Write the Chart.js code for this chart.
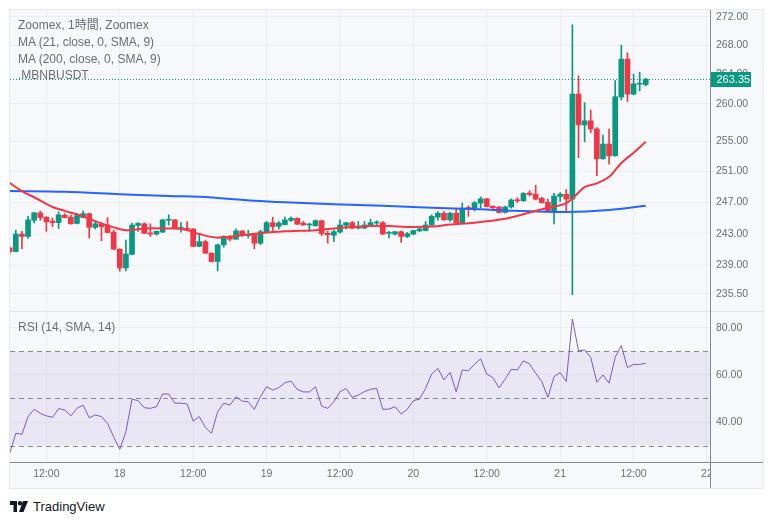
<!DOCTYPE html>
<html>
<head>
<meta charset="utf-8">
<script src="https://cdn.jsdelivr.net/npm/chart.js@4.4.1/dist/chart.umd.min.js"></script>
<style>
  html, body { margin: 0; padding: 0; background: #ffffff; }
  body { width: 772px; height: 523px; position: relative; overflow: hidden;
         font-family: "Liberation Sans", Arial, "Noto Sans CJK JP", sans-serif; }
  #panel { position: absolute; left: 10px; top: 10px; width: 753px; height: 478px;
           background: #F7F8FA; box-shadow: 0 0 0 1px #E6E8ED; }
  #chart { position: absolute; left: 0; top: 0; }
  .legend { position: absolute; left: 18px; font-size: 12px; line-height: 14px;
            color: #6A6D78; white-space: nowrap; }
  #brand { position: absolute; left: 10px; top: 498px; height: 16px; display: flex; align-items: center; }
  #brand span { font-size: 13px; color: #131722; margin-left: 5px; }
</style>
</head>
<body>
<div id="panel"><canvas id="chart" width="753" height="478"></canvas></div>
<div class="legend" style="top:18px">Zoomex, 1時間, Zoomex</div>
<div class="legend" style="top:35px">MA (21, close, 0, SMA, 9)</div>
<div class="legend" style="top:52px">MA (200, close, 0, SMA, 9)</div>
<div class="legend" style="top:68px">.MBNBUSDT</div>
<div class="legend" style="top:320px">RSI (14, SMA, 14)</div>
<div id="brand">
  <svg width="18" height="11" viewBox="0 0 18 11">
    <path d="M0 0H7V11H3.5V4H0Z" fill="#131722"/>
    <circle cx="10" cy="2.2" r="2.2" fill="#131722"/>
    <path d="M13 0H18L13.5 11H9Z" fill="#131722"/>
  </svg>
  <span>TradingView</span>
</div>
<script>
/* ============================
   CANDLES (1h), hours from 18 00:00
   ============================ */

const candleHours = [
  -18, -17, -16, -15, -14, -13, -12, -11, -10, -9, -8, -7, -6, -5, -4, -3, -2, -1,
  0, 1, 2, 3, 4, 5, 6, 7, 8, 9, 10, 11, 12, 13, 14, 15, 16, 17, 18, 19, 20, 21, 22, 23,
  24, 25, 26, 27, 28, 29, 30, 31, 32, 33, 34, 35, 36, 37, 38, 39, 40, 41, 42, 43, 44, 45, 46, 47,
  48, 49, 50, 51, 52, 53, 54, 55, 56, 57, 58, 59, 60, 61, 62, 63, 64, 65, 66, 67, 68, 69, 70, 71,
  72, 73, 74, 75, 76, 77, 78, 79, 80, 81, 82, 83, 84, 85, 86
];

const openPrices = [
  241.2, 240.75, 242.95, 242.65, 244.7, 245.65, 245.1, 244.6, 244.4, 245.35, 245.1, 244.3, 245.05, 245.55, 243.8, 244.2, 244.1, 243.2,
  241.05, 238.7, 240.4, 244.05, 244.25, 243.1, 242.95, 243.2, 244.7, 244.75, 243.65, 243.7, 243.6, 241.4, 242.0, 240.55, 239.5, 241.6, 242.65, 242.3, 243.35, 242.75, 242.95, 241.8,
  243.2, 244.4, 243.95, 244.15, 244.7, 244.95, 244.35, 244.1, 244.0, 244.65, 243.05, 242.8, 243.2, 244.05, 244.4, 243.7, 243.7, 244.1, 244.35, 244.4, 243.05, 242.95, 243.25, 242.65,
  242.95, 243.35, 243.4, 244.1, 245.1, 245.6, 244.75, 245.6, 244.35, 246.35, 246.3, 246.9, 247.45, 246.5, 246.4, 245.7, 246.4, 247.3, 247.2, 248.2, 248.05, 247.5, 247.0, 245.9,
  247.75, 248.05, 247.4, 261.3, 257.15, 257.7, 256.6, 252.65, 254.6, 253.05, 260.9, 266.1, 261.3, 262.65, 262.6
];

const highPrices = [
  241.4, 243.45, 243.3, 245.2, 245.7, 245.9, 245.15, 245.0, 245.8, 245.55, 245.35, 245.6, 245.9, 245.6, 244.65, 244.4, 245.05, 243.45,
  241.1, 242.2, 244.35, 244.4, 244.4, 244.25, 243.35, 244.85, 245.4, 244.8, 244.4, 244.55, 243.65, 243.05, 242.2, 240.6, 241.7, 242.75, 242.75, 243.6, 243.4, 243.45, 243.0, 243.45,
  244.55, 245.1, 244.55, 245.1, 245.15, 245.0, 244.55, 244.35, 244.75, 244.7, 243.3, 243.45, 244.75, 244.45, 244.55, 244.55, 244.55, 244.85, 244.65, 244.55, 243.3, 243.3, 243.35, 243.15,
  243.45, 243.9, 244.55, 245.4, 245.8, 245.8, 245.7, 246.1, 246.9, 246.55, 247.1, 247.7, 247.5, 246.55, 246.45, 246.5, 247.45, 247.6, 248.25, 248.5, 249.2, 247.65, 247.4, 248.15,
  248.25, 248.65, 270.9, 263.8, 260.15, 259.15, 256.8, 255.8, 256.6, 263.15, 268.05, 267.0, 264.05, 264.3, 263.45
];

const lowPrices = [
  240.4, 240.7, 241.1, 242.4, 244.35, 244.7, 243.3, 243.9, 243.65, 245.0, 244.2, 244.25, 245.0, 242.45, 243.6, 242.1, 243.1, 241.0,
  238.3, 238.35, 240.35, 243.3, 243.0, 242.65, 242.8, 243.15, 244.1, 243.65, 243.2, 243.45, 241.35, 241.35, 240.5, 239.45, 238.35, 241.3, 242.1, 242.3, 242.65, 242.45, 241.1, 241.6,
  243.15, 243.3, 243.6, 244.1, 244.55, 244.15, 244.05, 243.3, 243.95, 242.75, 241.8, 242.0, 243.05, 243.6, 243.6, 243.6, 243.65, 244.0, 244.1, 242.9, 242.45, 242.8, 241.9, 242.5,
  242.85, 243.25, 243.35, 244.05, 244.7, 244.7, 244.55, 244.2, 244.3, 245.2, 245.9, 246.3, 246.4, 245.9, 245.6, 245.6, 246.25, 246.95, 247.1, 247.8, 247.3, 246.9, 245.8, 244.25,
  247.1, 245.9, 235.4, 252.8, 254.9, 256.1, 250.45, 252.6, 251.95, 253.0, 260.5, 260.3, 261.2, 261.75, 262.45
];

const closePrices = [
  240.75, 242.95, 242.65, 244.75, 245.65, 245.05, 244.5, 244.4, 245.4, 245.05, 244.25, 245.3, 245.55, 243.8, 244.25, 243.9, 243.15, 241.05,
  238.7, 240.45, 244.1, 244.3, 243.05, 242.95, 243.3, 244.75, 244.75, 243.7, 243.7, 243.55, 241.4, 242.0, 240.55, 239.5, 241.6, 242.65, 242.3, 243.35, 242.75, 242.9, 241.8, 243.25,
  244.4, 243.9, 244.35, 244.75, 244.95, 244.2, 244.1, 244.2, 244.65, 243.0, 242.85, 243.25, 244.1, 244.4, 243.7, 243.9, 244.1, 244.4, 244.4, 242.95, 243.15, 243.25, 242.65, 243.0,
  243.4, 243.6, 244.1, 245.2, 245.6, 244.75, 245.6, 244.35, 246.25, 246.2, 246.95, 247.45, 246.45, 246.3, 245.7, 246.4, 247.3, 247.2, 248.15, 248.0, 247.4, 246.95, 245.9, 247.8,
  248.05, 247.4, 261.3, 257.15, 257.7, 256.6, 252.65, 254.6, 253.05, 260.95, 266.1, 261.3, 262.7, 262.75, 263.35
];

/* ============================
   MOVING AVERAGES
   ============================ */

const ma21Hours  = [-18, -16, -14, -11, -9, -6, -3, -1, 1, 5, 9, 11, 13, 16, 18, 21, 27, 32, 38, 43, 48, 51, 54, 58, 63, 67, 70, 73, 74, 76, 78, 80, 82, 84, 86];
const ma21Values = [249.5, 248.45, 247.65, 246.4, 245.9, 245.2, 244.3, 243.8, 243.45, 243.7, 243.65, 243.45, 242.95, 242.5, 242.6, 242.9, 243.3, 243.45, 243.85, 244.0, 243.85, 243.9, 244.15, 244.4, 244.9, 245.7, 246.3, 246.9, 247.5, 248.95, 249.45, 250.3, 252.1, 253.45, 254.9];

const ma200Hours  = [-18, -9, 0, 8, 13, 22, 27, 35, 43, 51, 59, 64, 73, 80, 86];
const ma200Values = [248.45, 248.35, 248.05, 247.8, 247.7, 247.2, 247.0, 246.75, 246.55, 246.3, 246.1, 245.92, 245.75, 246.0, 246.55];

/* ============================
   RSI (14)
   ============================ */

const rsiValues = [
  26.7, 35.2, 34.8, 42.3, 45.4, 43.7, 42.6, 42.0, 45.7, 45.1, 42.6, 45.8, 47.2, 41.8, 43.0, 42.3, 39.4, 33.7,
  28.4, 35.9, 49.7, 49.1, 46.1, 45.8, 46.5, 51.9, 51.9, 48.0, 48.0, 47.7, 40.4, 42.3, 37.7, 35.2, 44.4, 48.0, 47.2, 50.8, 48.9, 48.6, 45.4, 50.8,
  55.0, 53.6, 54.6, 56.7, 57.4, 53.9, 52.8, 52.8, 55.0, 46.8, 45.8, 48.6, 52.9, 54.3, 50.5, 51.5, 52.9, 53.9, 54.3, 45.4, 45.5, 46.5, 43.4, 45.4,
  49.1, 49.7, 54.3, 60.4, 62.8, 57.9, 61.1, 52.9, 62.1, 61.8, 64.5, 66.9, 60.4, 58.9, 54.5, 58.2, 62.4, 62.1, 66.0, 64.7, 60.7, 57.2, 50.5, 59.3,
  61.0, 57.2, 83.8, 70.3, 70.6, 67.5, 56.9, 60.0, 56.5, 67.5, 72.5, 63.1, 64.5, 64.5, 65.0
];

/* ============================
   AXES
   ============================ */

const priceTicks = [235.5, 239, 243, 247, 251, 255, 260, 264, 268, 272];
const rsiTicks = [40, 60, 80];
const rsiBands = [30, 50, 70];
const timeTicks = [-12, 0, 12, 24, 36, 48, 60, 72, 84, 96];
const timeLabels = ["12:00", "18", "12:00", "19", "12:00", "20", "12:00", "21", "12:00", "22"];

/* ============================
   CHART
   ============================ */

const UP = "#089981";
const DOWN = "#F23645";
const BG = "#F7F8FA";
const GRID = "#EBEDF1";
const AXIS = "#868993";
const TEXT = "#6A6D78";
const FONT = "'Liberation Sans', Arial, sans-serif";

const candleColors = openPrices.map((o, i) => closePrices[i] >= o ? UP : DOWN);

// no extra room for the edge tick labels, panes fill the canvas
function fitSide(s) {
  s.width = 53;
  s.paddingTop = 0;
  s.paddingBottom = 0;
}

const panes = {
  id: "panes",
  beforeDatasetsDraw(chart) {
    const { ctx, chartArea, scales: { y, y2 } } = chart;
    const top = y2.getPixelForValue(rsiBands[2]);
    const bottom = y2.getPixelForValue(rsiBands[0]);
    ctx.save();
    ctx.fillStyle = "rgba(126,87,194,0.1)";
    ctx.fillRect(chartArea.left, top, chartArea.right - chartArea.left, bottom - top);
    ctx.strokeStyle = AXIS;
    ctx.lineWidth = 1;
    ctx.setLineDash([5, 4]);
    rsiBands.forEach(v => {
      const py = Math.round(y2.getPixelForValue(v)) + 0.5;
      ctx.beginPath();
      ctx.moveTo(chartArea.left, py);
      ctx.lineTo(chartArea.right, py);
      ctx.stroke();
    });
    ctx.setLineDash([]);
    // pane separator
    ctx.strokeStyle = "#E0E3EB";
    const sy = Math.round(y.bottom) + 0.5;
    ctx.beginPath();
    ctx.moveTo(0, sy);
    ctx.lineTo(chart.width, sy);
    ctx.stroke();
    ctx.restore();
  },
  afterDatasetsDraw(chart) {
    const { ctx, chartArea, scales: { y } } = chart;
    const py = Math.round(y.getPixelForValue(closePrices[closePrices.length - 1])) + 0.5;
    ctx.save();
    ctx.strokeStyle = UP;
    ctx.lineWidth = 1;
    ctx.setLineDash([1, 2]);
    ctx.beginPath();
    ctx.moveTo(chartArea.left, py);
    ctx.lineTo(chartArea.right, py);
    ctx.stroke();
    ctx.restore();
  },
  afterDraw(chart) {
    const { ctx, chartArea, scales: { y } } = chart;
    const ax = Math.round(chartArea.right) + 0.5;
    const bx = Math.round(chartArea.bottom) + 0.5;
    ctx.save();
    ctx.fillStyle = BG;
    ctx.fillRect(ax + 0.5, bx + 0.5, chart.width - ax, chart.height - bx);
    ctx.strokeStyle = AXIS;
    ctx.lineWidth = 1;
    ctx.beginPath();
    ctx.moveTo(ax, 0);
    ctx.lineTo(ax, chart.height);
    ctx.moveTo(ax, bx);
    ctx.lineTo(chart.width, bx);
    ctx.stroke();
    // last price label
    const last = closePrices[closePrices.length - 1];
    const py = Math.round(y.getPixelForValue(last));
    ctx.fillStyle = UP;
    ctx.fillRect(ax + 0.5, py - 7, 40, 15);
    ctx.fillStyle = "#ffffff";
    ctx.font = "11px " + FONT;
    ctx.textBaseline = "middle";
    ctx.fillText(last.toFixed(2), ax + 6, py + 0.5);
    ctx.restore();
  }
};

const ctx = document.getElementById("chart").getContext("2d");

new Chart(ctx, {
  type: "bar",
  data: {
    datasets: [
      {
        type: "line",
        label: "MA 21",
        data: ma21Hours.map((h, i) => ({ x: h, y: ma21Values[i] })),
        borderColor: DOWN,
        borderWidth: 2,
        pointRadius: 0,
        cubicInterpolationMode: "monotone",
        yAxisID: "y",
        order: 0
      },
      {
        type: "line",
        label: "MA 200",
        data: ma200Hours.map((h, i) => ({ x: h, y: ma200Values[i] })),
        borderColor: "#2962FF",
        borderWidth: 2,
        pointRadius: 0,
        cubicInterpolationMode: "monotone",
        yAxisID: "y",
        order: 0
      },
      {
        label: "Body",
        data: candleHours.map((h, i) => ({ x: h, y: [openPrices[i], closePrices[i]] })),
        backgroundColor: candleColors,
        barThickness: 5,
        minBarLength: 1,
        grouped: false,
        yAxisID: "y",
        order: 1
      },
      {
        label: "Wick",
        data: candleHours.map((h, i) => ({ x: h, y: [lowPrices[i], highPrices[i]] })),
        backgroundColor: candleColors,
        barThickness: 1,
        minBarLength: 1,
        grouped: false,
        yAxisID: "y",
        order: 2
      },
      {
        type: "line",
        label: "RSI",
        data: candleHours.map((h, i) => ({ x: h, y: rsiValues[i] })),
        borderColor: "#7E57C2",
        borderWidth: 1,
        pointRadius: 0,
        tension: 0,
        yAxisID: "y2",
        order: 0
      }
    ]
  },
  options: {
    responsive: false,
    animation: false,
    devicePixelRatio: 1,
    layout: { padding: 0 },
    plugins: { legend: { display: false }, tooltip: { enabled: false } },
    scales: {
      x: {
        type: "linear",
        min: -17.95,
        max: 96.5,
        offset: false,
        grid: { color: GRID, offset: false, drawTicks: false },
        border: { color: AXIS },
        ticks: {
          autoSkip: false, maxRotation: 0, padding: 6, color: TEXT,
          font: { family: FONT, size: 10.5 },
          callback: v => timeLabels[timeTicks.indexOf(v)]
        },
        afterBuildTicks: s => { s.ticks = timeTicks.map(v => ({ value: v })); },
        afterFit: s => { s.height = 26; s.paddingLeft = 0; s.paddingRight = 0; }
      },
      y: {
        type: "logarithmic",
        position: "right",
        stack: "pane",
        stackWeight: 301,
        min: 233.42,
        max: 272.99,
        grid: { color: GRID, drawTicks: false },
        border: { color: AXIS },
        ticks: {
          autoSkip: false, padding: 6, color: TEXT,
          font: { family: FONT, size: 10.5 },
          callback: v => Number(v).toFixed(2)
        },
        afterBuildTicks: s => { s.ticks = priceTicks.map(v => ({ value: v })); },
        afterFit: fitSide
      },
      y2: {
        type: "linear",
        position: "right",
        stack: "pane",
        stackWeight: 151,
        min: 23,
        max: 87.2,
        grid: { color: GRID, drawTicks: false },
        border: { color: AXIS },
        ticks: {
          autoSkip: false, padding: 6, color: TEXT,
          font: { family: FONT, size: 10.5 },
          callback: v => Number(v).toFixed(2)
        },
        afterBuildTicks: s => { s.ticks = rsiTicks.map(v => ({ value: v })); },
        afterFit: fitSide
      }
    }
  },
  plugins: [panes]
});
</script>
</body>
</html>
